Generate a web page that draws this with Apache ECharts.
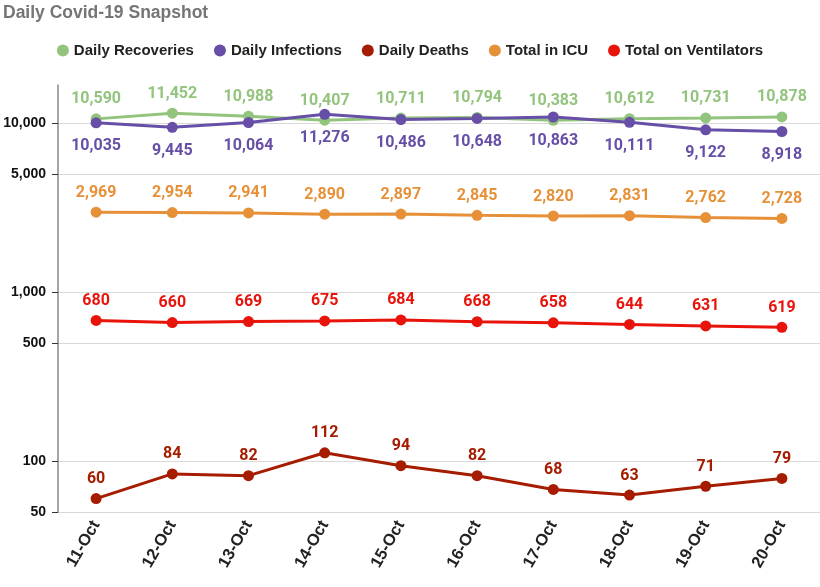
<!DOCTYPE html>
<html>
<head>
<meta charset="utf-8">
<script src="https://cdn.jsdelivr.net/npm/echarts@6/dist/echarts.min.js"></script>
<style>html,body{margin:0;padding:0;background:#fff;}#c{width:820px;height:587px;}</style>
</head>
<body>
<div id="c"></div>
<script>
const categories = ['11-Oct','12-Oct','13-Oct','14-Oct','15-Oct','16-Oct','17-Oct','18-Oct','19-Oct','20-Oct'];
const dailyRecoveries = [10590, 11452, 10988, 10407, 10711, 10794, 10383, 10612, 10731, 10878];
const dailyInfections = [10035, 9445, 10064, 11276, 10486, 10648, 10863, 10111, 9122, 8918];
const dailyDeaths = [60, 84, 82, 112, 94, 82, 68, 63, 71, 79];
const totalICU = [2969, 2954, 2941, 2890, 2897, 2845, 2820, 2831, 2762, 2728];
const totalVentilators = [680, 660, 669, 675, 684, 668, 658, 644, 631, 619];
const yTicks = [50, 100, 500, 1000, 5000, 10000];

const fmt = v => Number(v).toLocaleString('en-US');
const labelFont = 'Roboto, "Liberation Sans", Arial, sans-serif';
const axisFont = '"Liberation Sans", Arial, sans-serif';

function mk(name, data, color, pos, dist) {
  return {
    name, type: 'line', data,
    symbol: 'circle', symbolSize: 11,
    lineStyle: { width: 3, color },
    itemStyle: { color },
    label: {
      show: true, position: pos, distance: dist,
      color, fontFamily: labelFont, fontWeight: 'bold', fontSize: 16,
      formatter: p => fmt(p.value)
    },
    z: 3
  };
}

const chart = echarts.init(document.getElementById('c'));
chart.setOption({
  animation: false,
  backgroundColor: '#fff',
  title: {
    text: 'Daily Covid-19 Snapshot',
    left: -2, top: -1,
    textStyle: { color: '#757575', fontFamily: axisFont, fontWeight: 'bold', fontSize: 17.5 }
  },
  legend: {
    top: 38, left: 'center',
    icon: 'circle', itemWidth: 12, itemHeight: 12, itemGap: 20,
    textStyle: { color: '#222', fontFamily: axisFont, fontWeight: 'bold', fontSize: 15 },
    data: ['Daily Recoveries','Daily Infections','Daily Deaths','Total in ICU','Total on Ventilators']
  },
  grid: { left: 58, right: -2, top: 85, bottom: 75, containLabel: false },
  xAxis: {
    type: 'category', data: categories, boundaryGap: true,
    axisLine: { show: false }, axisTick: { show: false },
    axisLabel: { rotate: 60, color: '#222', fontFamily: axisFont, fontWeight: 'bold', fontSize: 16.5, margin: 10 }
  },
  yAxis: {
    type: 'log', logBase: 10, min: 50, max: 16800,
    axisLine: { show: true, lineStyle: { color: '#888', width: 1.5 } },
    axisTick: { show: true, inside: false, length: 6, customValues: yTicks, lineStyle: { color: '#333' } },
    axisLabel: { customValues: yTicks, color: '#111', fontFamily: axisFont, fontWeight: 'bold', fontSize: 14, margin: 12, formatter: v => fmt(v) },
    splitLine: { show: true, lineStyle: { color: '#d9d9d9', width: 1 } }
  },
  series: [
    mk('Daily Recoveries', dailyRecoveries, '#93c47d', 'top', 6),
    mk('Daily Infections', dailyInfections, '#674ea7', 'bottom', 10),
    mk('Daily Deaths', dailyDeaths, '#a61c00', 'top', 6),
    mk('Total in ICU', totalICU, '#e69138', 'top', 6),
    mk('Total on Ventilators', totalVentilators, '#e8140c', 'top', 6)
  ]
});
</script>
</body>
</html>
